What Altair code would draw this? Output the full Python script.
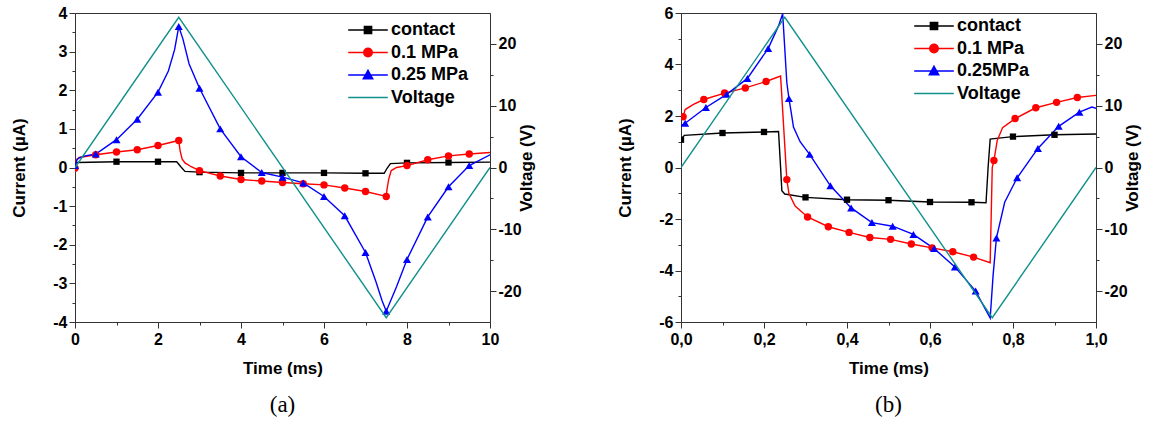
import altair as alt
import pandas as pd

COLORS = ["#000000", "#ff0000", "#0000ff", "#12908a"]
# custom legend symbols: line segment + marker (unit = sqrt(size)/2)
LEG_PATHS = [
    "M-2.2,0L2.2,0M-0.4,-0.4L0.4,-0.4L0.4,0.4L-0.4,0.4Z",
    "M-2.2,0L2.2,0M-0.47,0A0.47,0.47 0 1,0 0.47,0A0.47,0.47 0 1,0 -0.47,0Z",
    "M-2.2,0L2.2,0M0,-0.52L0.52,0.42L-0.52,0.42Z",
    "M-2.2,0L2.2,0",
]
SHAPES = ["square", "circle", "triangle-up"]
SIZES = [40, 55, 65]

# ---------------- panel (a) ----------------
a_labels = ["contact", "0.1 MPa", "0.25 MPa", "Voltage"]

a_contact_line_t = [0, 0.05, 2.45, 2.55, 2.65, 7.45, 7.52, 7.6, 10]
a_contact_line_i = [0.10, 0.13, 0.15, 0.02, -0.10, -0.15, -0.02, 0.10, 0.14]
a_contact_mk_t = [1, 2, 3, 4, 5, 6, 7, 8, 9]
a_contact_mk_i = [0.15, 0.15, -0.12, -0.14, -0.14, -0.14, -0.15, 0.12, 0.13]

a_red_line_t = [0.03, 0.1, 2.53, 2.58, 2.65, 2.8, 7.52, 7.56, 7.62, 7.75, 10]
a_red_line_i = [0.2, 0.26, 0.45, 0.22, 0.12, 0.02, -0.55, -0.3, -0.08, 0.0, 0.39]
a_red_mk_t = [0, 0.5, 1, 1.5, 2, 2.5, 3, 3.5, 4, 4.5, 5, 5.5, 6, 6.5, 7, 7.5, 8, 8.5, 9, 9.5]
a_red_mk_i = [-0.02, 0.33, 0.40, 0.46, 0.57, 0.70, -0.08, -0.22, -0.31, -0.35,
              -0.39, -0.42, -0.45, -0.53, -0.62, -0.75, 0.05, 0.20, 0.30, 0.35]

a_blue_line_t = [0.05, 0.1, 0.25, 2.25, 2.4, 2.6, 2.75, 7.25, 7.4, 7.75, 10]
a_blue_line_i = [0.2, 0.25, 0.3, 2.5, 3.05, 3.33, 2.68, -2.95, -3.45, -3.08, 0.33]
a_blue_mk_t = [0, 0.5, 1, 1.5, 2, 2.5, 3, 3.5, 4, 4.5, 5, 5.5, 6, 6.5, 7, 7.5, 8, 8.5, 9, 9.5]
a_blue_mk_i = [0.05, 0.35, 0.72, 1.25, 1.95, 3.65, 2.05, 1.0, 0.28, -0.13,
               -0.25, -0.4, -0.75, -1.25, -2.2, -3.72, -2.38, -1.28, -0.5, 0.05]

a_volt_t = [0, 2.5, 7.5, 10]
a_volt_v = [0, 24.3, -24.3, 0]

# ---------------- panel (b) ----------------
b_labels = ["contact", "0.1 MPa", "0.25MPa", "Voltage"]

b_contact_line_t = [0.008, 0.235, 0.24, 0.243, 0.25, 0.735, 0.74, 0.745, 0.76, 1.0]
b_contact_line_i = [1.25, 1.40, 0.0, -0.9, -1.03, -1.37, 0.0, 1.1, 1.13, 1.30]
b_contact_mk_t = [0.0, 0.1, 0.2, 0.3, 0.4, 0.5, 0.6, 0.7, 0.8, 0.9]
b_contact_mk_i = [1.08, 1.34, 1.38, -1.16, -1.25, -1.27, -1.34, -1.35, 1.20, 1.27]

b_red_line_t = [0.01, 0.03, 0.24, 0.26, 0.275, 0.745, 0.75, 0.762, 0.775, 1.0]
b_red_line_i = [2.25, 2.45, 3.55, -1.0, -1.5, -3.70, 0.0, 1.05, 1.55, 2.80]
b_red_mk_t = [0.005, 0.055, 0.105, 0.155, 0.205, 0.255, 0.305, 0.355, 0.405, 0.455,
              0.505, 0.555, 0.605, 0.655, 0.705, 0.754, 0.805, 0.855, 0.905, 0.955]
b_red_mk_i = [1.97, 2.64, 2.89, 3.09, 3.34, -0.47, -1.92, -2.30, -2.52, -2.72,
              -2.79, -2.97, -3.12, -3.27, -3.48, 0.27, 1.90, 2.32, 2.53, 2.72]

b_blue_line_t = [0.0, 0.235, 0.245, 0.255, 0.265, 0.271, 0.287, 0.745, 0.752, 0.78, 0.99, 1.0]
b_blue_line_i = [1.62, 5.5, 5.97, 3.3, 2.2, 1.57, 1.0, -5.85, -4.2, -1.35, 2.35, 2.30]
b_blue_mk_t = [0.01, 0.06, 0.11, 0.16, 0.21, 0.26, 0.31, 0.36, 0.41, 0.46,
               0.51, 0.56, 0.61, 0.66, 0.71, 0.76, 0.81, 0.86, 0.91, 0.96]
b_blue_mk_i = [1.72, 2.33, 2.84, 3.46, 4.62, 2.68, 0.51, -0.71, -1.57, -2.14,
               -2.28, -2.60, -3.15, -3.86, -4.80, -2.74, -0.40, 0.74, 1.60, 2.15]

b_volt_t = [0, 0.25, 0.75, 1.0]
b_volt_v = [0, 24.3, -24.3, 0]

FONT = "Liberation Sans"


def build_panel(labels, series, volt_t, volt_v, xdom, xvals, xlab_test, xtitle,
                ydom, yvals, ylab_test, xlabel_expr, leg_x, leg_y, caption):
    line_rows, mk_rows = [], []
    for lab, (lt, li, mt, mi) in zip(labels[:3], series):
        pts = sorted(list(zip(lt, li)) + list(zip(mt, mi)))
        line_rows += [{"t": t, "I": v, "series": lab} for t, v in pts]
        mk_rows += [{"t": t, "I": v, "series": lab} for t, v in zip(mt, mi)]
    line_df = pd.DataFrame(line_rows)
    mk_df = pd.DataFrame(mk_rows)
    volt_df = pd.DataFrame({"t": volt_t, "V": volt_v})
    leg_df = pd.DataFrame({"series": labels, "t": [None] * 4, "I": [None] * 4})

    xscale = alt.Scale(domain=xdom, nice=False, zero=False)
    yscale = alt.Scale(domain=ydom, nice=False, zero=False)
    xaxis = alt.Axis(
        values=xvals, title=xtitle, labelExpr=xlabel_expr,
        tickSize={"condition": {"test": xlab_test, "value": 6}, "value": 3},
        labelOverlap=False, labelFlush=False, grid=False,
        labelPadding=3, titlePadding=13,
    )
    yaxis = alt.Axis(
        values=yvals, title="Current (µA)",
        labelExpr=f"({ylab_test}) ? ('' + datum.value) : ''",
        tickSize={"condition": {"test": ylab_test, "value": 6}, "value": 3},
        labelOverlap=False, labelFlush=False, grid=False,
        labelPadding=2, titlePadding=24,
    )
    X = alt.X("t:Q", scale=xscale, axis=xaxis)
    Y = alt.Y("I:Q", scale=yscale, axis=yaxis)

    lines = alt.Chart(line_df).mark_line(strokeWidth=1.4, clip=True).encode(
        x=X, y=Y,
        color=alt.Color("series:N", scale=alt.Scale(domain=labels[:3], range=COLORS[:3]), legend=None),
    )
    layers = [lines]
    for k, lab in enumerate(labels[:3]):
        layers.append(
            alt.Chart(mk_df).mark_point(shape=SHAPES[k], filled=True, size=SIZES[k],
                                        opacity=1, color=COLORS[k], clip=True)
            .encode(x=X, y=Y).transform_filter(alt.datum.series == lab)
        )
    legend = alt.Legend(
        orient="none", legendX=leg_x, legendY=leg_y, title=None,
        symbolSize=324, symbolStrokeWidth=1.5, symbolOpacity=1,
        labelOffset=13, labelFont=FONT, labelFontSize=18, labelFontWeight="bold",
        labelColor="#000", rowPadding=3.5, padding=0,
    )
    dummy = alt.Chart(leg_df).mark_point(filled=True, opacity=1).encode(
        x=X, y=Y,
        fill=alt.Fill("series:N", scale=alt.Scale(domain=labels, range=COLORS), legend=legend),
        stroke=alt.Stroke("series:N", scale=alt.Scale(domain=labels, range=COLORS), legend=legend),
        shape=alt.Shape("series:N", scale=alt.Scale(domain=labels, range=LEG_PATHS), legend=legend),
    )
    layers.append(dummy)
    inner = alt.layer(*layers)

    volt = alt.Chart(volt_df).mark_line(strokeWidth=1.4, color=COLORS[3], clip=True).encode(
        x=X,
        y=alt.Y("V:Q", scale=alt.Scale(domain=[-25, 25], nice=False),
                axis=alt.Axis(orient="right", title="Voltage (V)", titleAngle=270,
                              values=[-20, -15, -10, -5, 0, 5, 10, 15, 20],
                              labelExpr="datum.value % 10 === 0 ? ('' + datum.value) : ''",
                              tickSize={"condition": {"test": "datum.value % 10 === 0", "value": 6}, "value": 3},
                              labelOverlap=False, labelFlush=False, grid=False,
                              labelPadding=2, titlePadding=14)),
    )
    return alt.layer(inner, volt).resolve_scale(y="independent").properties(
        width=415, height=309,
        title=alt.TitleParams(caption, orient="bottom", anchor="middle", frame="group",
                              font="Liberation Serif", fontSize=23, fontWeight="normal",
                              color="#000", offset=18),
    )


pa = build_panel(
    a_labels,
    [(a_contact_line_t, a_contact_line_i, a_contact_mk_t, a_contact_mk_i),
     (a_red_line_t, a_red_line_i, a_red_mk_t, a_red_mk_i),
     (a_blue_line_t, a_blue_line_i, a_blue_mk_t, a_blue_mk_i)],
    a_volt_t, a_volt_v,
    [0, 10], list(range(0, 11)), "datum.value % 2 === 0", "Time (ms)",
    [-4, 4], [x / 2 for x in range(-8, 9)], "datum.value % 1 === 0",
    "datum.value % 2 === 0 ? ('' + datum.value) : ''",
    283, 7, "(a)",
)

pb = build_panel(
    b_labels,
    [(b_contact_line_t, b_contact_line_i, b_contact_mk_t, b_contact_mk_i),
     (b_red_line_t, b_red_line_i, b_red_mk_t, b_red_mk_i),
     (b_blue_line_t, b_blue_line_i, b_blue_mk_t, b_blue_mk_i)],
    b_volt_t, b_volt_v,
    [0, 1], [round(x / 10, 1) for x in range(0, 11)], "round(datum.value * 10) % 2 === 0", "Time (ms)",
    [-6, 6], list(range(-6, 7)), "datum.value % 2 === 0",
    "round(datum.value * 10) % 2 === 0 ? replace(format(datum.value, '.1f'), '.', ',') : ''",
    243, 3, "(b)",
)

chart = alt.hconcat(pa, pb, spacing=191, bounds="flush").resolve_scale(
    color="independent", fill="independent", stroke="independent", shape="independent",
).resolve_legend(
    fill="independent", stroke="independent", shape="independent",
).properties(
    padding={"left": 10, "top": 4, "right": 5, "bottom": 5},
    background="white",
).configure_view(stroke="#333", strokeWidth=1).configure_axis(
    domainColor="#333", tickColor="#333", tickWidth=1,
    labelFont=FONT, labelFontSize=16, labelFontWeight="bold", labelColor="#000",
    titleFont=FONT, titleFontSize=17, titleFontWeight="bold", titleColor="#000",
)

chart.save("out.html", embed_options={"renderer": "svg", "actions": False})
